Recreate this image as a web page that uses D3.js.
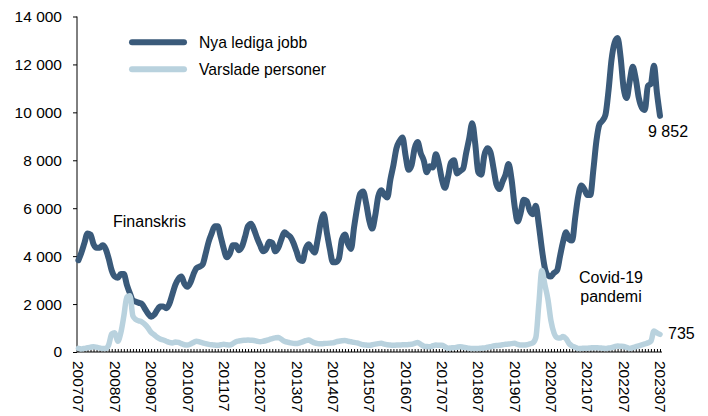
<!DOCTYPE html>
<meta charset="utf-8">
<style>
  body { margin: 0; background: #fff; }
  text { font-family: "Liberation Sans", Arial, sans-serif; fill: #000; }
</style>
<svg width="708" height="416"></svg>
<script src="https://cdn.jsdelivr.net/npm/d3@7"></script>
<script>

// monthly values, 2007-07 .. 2023-07 (one row per year starting in July)
var nyaLedigaJobb = [
  3830, 4150, 4550, 4950, 4900, 4500, 4350, 4350, 4450, 4300, 3900, 3400,
  3150, 3100, 3250, 3250, 2800, 2450, 2150, 2100, 2050, 2000, 1800, 1600,
  1470, 1550, 1750, 1900, 1900, 1830, 2000, 2400, 2800, 3050, 3150, 2850,
  2720, 2900, 3250, 3500, 3560, 3650, 4100, 4600, 4950, 5250, 5250, 4800,
  4300, 3950, 4100, 4450, 4450, 4250, 4400, 4800, 5250, 5350, 5100, 4750,
  4450, 4200, 4300, 4600, 4550, 4200, 4350, 4700, 5000, 4900, 4800, 4550,
  4200, 3850, 3800, 4300, 4500, 4300, 4150, 4700, 5400, 5750, 5000, 4300,
  3750, 3750, 3900, 4700, 4900, 4500, 4300, 5200, 6000, 6600, 6700, 6200,
  5500, 5150, 5700, 6500, 6750, 6550, 6450, 7200, 7800, 8500, 8800, 8950,
  8200, 7600, 7800, 8500, 8760, 8300, 8000, 7500, 7750, 7700, 8250, 7850,
  7200, 6850, 7300, 7900, 8000, 7450, 7550, 7650, 8300, 8900, 9550, 8700,
  7500, 7400, 8200, 8500, 8350, 7700, 7000, 6800, 7100, 7400, 7850, 7200,
  6100, 5450, 5800, 6350, 6300, 5900, 5750, 6100, 5300, 4300, 3500, 3200,
  3150, 3300, 3400, 4000, 4600, 5000, 4700, 4650, 5600, 6500, 6950, 6800,
  6550, 6550, 7600, 8800, 9500, 9650, 9900, 10900, 12200, 12900, 13100, 12300,
  11000, 10600, 11300, 11900, 11400, 10600, 10200, 10100, 11100, 11200, 11950, 10800,
  9852
];

var varsladePersoner = [
  150, 130, 150, 180, 200, 220, 200, 170, 150, 150, 300, 750,
  800, 450, 800, 1500, 2300, 2350, 1500, 1350, 1300, 1250, 1150, 1000,
  820, 720, 620, 540, 500, 450, 400, 380, 420, 400, 350, 300,
  290, 330, 400, 450, 420, 380, 350, 320, 300, 290, 280, 300,
  320, 300, 290, 350, 430, 460, 480, 490, 500, 490, 480, 450,
  430, 450, 480, 520, 560, 590, 610, 530, 450, 410, 380, 360,
  350, 380, 420, 470, 500, 440, 380, 350, 340, 350, 360, 370,
  380, 420, 450, 470, 480, 450, 430, 400, 380, 340, 300, 290,
  280, 300, 330, 350, 360, 330, 300, 290, 280, 290, 290, 300,
  300, 310, 320, 360, 400, 320, 250, 230, 220, 260, 290, 280,
  280, 220, 160, 170, 180, 200, 220, 200, 180, 160, 150, 150,
  150, 160, 170, 200, 220, 250, 270, 280, 300, 320, 330, 350,
  360, 320, 290, 290, 300, 340, 380, 600, 2000, 3400, 2800, 2200,
  1300, 800, 600, 580, 650, 550, 350, 250, 200, 150, 150, 160,
  160, 170, 180, 175, 170, 160, 150, 165, 180, 220, 250, 240,
  230, 190, 150, 180, 220, 260, 300, 340, 380, 450, 880, 800,
  735
];

var xTickLabels = ["200707", "200807", "200907", "201007", "201107", "201207",
  "201307", "201407", "201507", "201607", "201707", "201807", "201907",
  "202007", "202107", "202207", "202307"];

var yTicks = [0, 2000, 4000, 6000, 8000, 10000, 12000, 14000];

var seriesNames = ["Nya lediga jobb", "Varslade personer"];
var seriesColors = ["#3a5a7a", "#b9d2de"];

var svg = d3.select("svg");

var x = d3.scaleLinear().domain([0, nyaLedigaJobb.length - 1]).range([78.4, 660]);
var y = d3.scaleLinear().domain([0, 14000]).range([352, 16.5]);

var locale = d3.formatLocale({decimal: ",", thousands: " ", grouping: [3], currency: ["", " kr"]});
var fmt = locale.format(",");

// y axis
var yAxis = svg.append("g")
    .attr("transform", "translate(77,0)")
    .call(d3.axisLeft(y).tickValues(yTicks).tickSize(4).tickPadding(11).tickFormat(fmt));
yAxis.selectAll("text").style("font-size", "15.5px");
yAxis.select(".domain").attr("d", "M0," + y(14000) + "V" + y(0));

// x axis: monthly minor ticks pointing up
var xMinor = svg.append("g")
    .attr("transform", "translate(0,352)")
    .call(d3.axisBottom(x).tickValues(d3.range(nyaLedigaJobb.length)).tickSize(-3).tickFormat(""));
xMinor.select(".domain").attr("d", "M77,0H662");

// x labels every 12 months, rotated
var xLab = svg.append("g")
    .attr("transform", "translate(0,352)")
    .call(d3.axisBottom(x).tickValues(xTickLabels.map(function(d, i) { return i * 12; }))
      .tickSize(0).tickFormat(function(d) { return xTickLabels[d / 12]; }));
xLab.select(".domain").remove();
xLab.selectAll("text")
    .style("font-size", "15.5px")
    .attr("transform", "rotate(90)")
    .attr("x", 9)
    .attr("y", 0)
    .attr("dy", "0.35em")
    .attr("text-anchor", "start");

var line = d3.line()
    .x(function(d, i) { return x(i); })
    .y(function(d) { return y(d); })
    .curve(d3.curveMonotoneX);

[nyaLedigaJobb, varsladePersoner].forEach(function(s, k) {
  svg.append("path")
      .datum(s)
      .attr("fill", "none")
      .attr("stroke", seriesColors[k])
      .attr("stroke-width", k ? 5.5 : 6)
      .attr("stroke-linejoin", "round")
      .attr("stroke-linecap", "round")
      .attr("d", line);
});

// legend
var legend = svg.append("g");
seriesNames.forEach(function(name, k) {
  var ly = 42.3 + k * 27;
  legend.append("line")
      .attr("x1", 132).attr("x2", 184)
      .attr("y1", ly).attr("y2", ly)
      .attr("stroke", seriesColors[k])
      .attr("stroke-width", 6)
      .attr("stroke-linecap", "round");
  legend.append("text")
      .attr("x", 199).attr("y", ly)
      .attr("dy", "0.35em")
      .style("font-size", "15.7px")
      .text(name);
});

// annotations
var last = nyaLedigaJobb.length - 1;
svg.append("text")
    .attr("x", x(last) - 12).attr("y", y(nyaLedigaJobb[last]) + 21)
    .style("font-size", "16px")
    .text(fmt(nyaLedigaJobb[last]));
svg.append("text")
    .attr("x", x(last) + 8).attr("y", y(varsladePersoner[last]) + 5)
    .style("font-size", "16px")
    .text(fmt(varsladePersoner[last]));

svg.append("text")
    .attr("x", 113).attr("y", 227)
    .style("font-size", "16px")
    .text("Finanskris");

var covid = svg.append("text")
    .attr("text-anchor", "middle")
    .style("font-size", "16px");
covid.append("tspan").attr("x", 611).attr("y", 283).text("Covid-19");
covid.append("tspan").attr("x", 611).attr("y", 302).text("pandemi");

</script>
